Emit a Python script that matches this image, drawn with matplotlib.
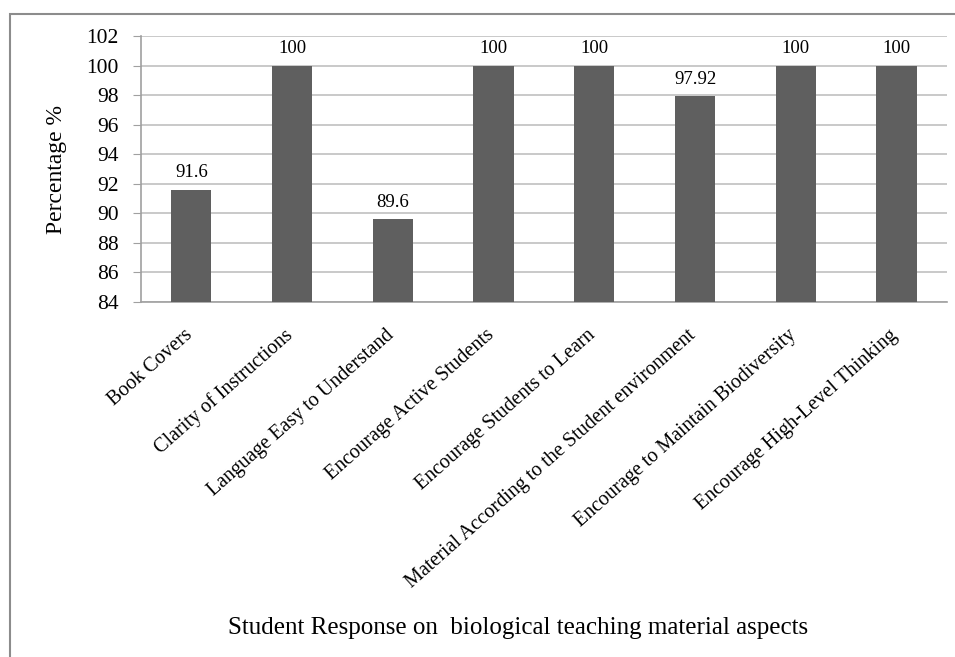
import matplotlib.pyplot as plt
from matplotlib.patches import Rectangle
from matplotlib.transforms import ScaledTranslation

plt.rcParams['font.family'] = ['Liberation Serif', 'DejaVu Serif']

aspects = [
    "Book Covers",
    "Clarity of Instructions",
    "Language Easy to Understand",
    "Encourage Active Students",
    "Encourage Students to Learn",
    "Material According to the Student environment",
    "Encourage to Maintain Biodiversity",
    "Encourage High-Level Thinking",
]
percent = [91.6, 100, 89.6, 100, 100, 97.92, 100, 100]
value_labels = ["91.6", "100", "89.6", "100", "100", "97.92", "100", "100"]

fig = plt.figure(figsize=(9.55, 6.57), dpi=100)
ax = fig.add_axes([0.1476, 0.5403, 0.8440, 0.4049])

x = range(len(aspects))
bars = ax.bar(x, percent, width=0.4, color="#5f5f5f", zorder=3)
ax.set_xlim(-0.5, len(aspects) - 0.5)
ax.set_ylim(84, 102)
ax.set_yticks(range(84, 103, 2))
ax.tick_params(axis='y', labelsize=15.5, length=6, color="#a0a0a0", pad=10)
ax.tick_params(axis='x', length=0, pad=17)
ax.yaxis.grid(True, color="#c0c0c0", linewidth=1.2, zorder=0)

for s in ["top", "right"]:
    ax.spines[s].set_visible(False)
for s in ["left", "bottom"]:
    ax.spines[s].set_color("#a0a0a0")
    ax.spines[s].set_linewidth(1.2)

ax.set_xticks(list(x))
ax.set_xticklabels(aspects, rotation=41.5, ha='right', va='top',
                   rotation_mode='anchor', fontsize=14.5)
# nudge slanted category labels a little to the left
shift = ScaledTranslation(-8 / 100, 0, fig.dpi_scale_trans)
for lbl in ax.get_xticklabels():
    lbl.set_transform(lbl.get_transform() + shift)

for b, lab in zip(bars, value_labels):
    ax.annotate(lab, (b.get_x() + b.get_width() / 2, b.get_height()),
                xytext=(0, 6), textcoords='offset points',
                ha='center', va='bottom', fontsize=13.5)

ax.set_ylabel("Percentage %", fontsize=17, labelpad=14)
fig.text(518 / 955, 1 - 628 / 657, "Student Response on  biological teaching material aspects",
         ha='center', va='center', fontsize=18)

# outer chart frame
fig.patches.append(Rectangle((10 / 955, -0.1), 1.2, 1 - 14 / 657 + 0.1,
                             transform=fig.transFigure, fill=False,
                             edgecolor="#8c8c8c", linewidth=1.5))

fig.savefig("out.png", dpi=100)
